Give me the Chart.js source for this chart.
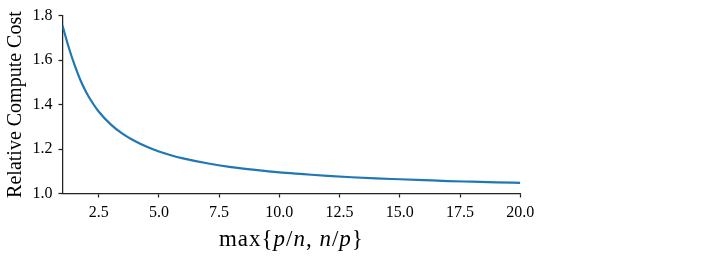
<!DOCTYPE html>
<html>
<head>
<meta charset="utf-8">
<script src="https://cdn.jsdelivr.net/npm/chart.js@4/dist/chart.umd.min.js"></script>
<style>
  html, body { margin: 0; padding: 0; background: #fff; }
  #wrap { width: 723px; height: 280px; position: relative; }
</style>
</head>
<body>
<div id="wrap"><canvas id="c" width="723" height="280"></canvas></div>
<script>
// ---- data ----
const ratioValues = [1, 1.25, 1.5, 1.75, 2, 2.25, 2.5, 3, 3.5, 4, 4.5, 5, 5.5, 6, 7, 8, 9, 10, 11, 12, 13, 14, 15, 16, 17, 18, 19, 20];
const costValues  = [1.755, 1.660, 1.578, 1.508, 1.452, 1.407, 1.369, 1.311, 1.268, 1.236, 1.210, 1.189, 1.172, 1.158, 1.136, 1.119, 1.106, 1.095, 1.087, 1.079, 1.073, 1.068, 1.064, 1.060, 1.056, 1.053, 1.050, 1.048];
const xTickValues = [2.5, 5.0, 7.5, 10.0, 12.5, 15.0, 17.5, 20.0];
const yTickValues = [1.0, 1.2, 1.4, 1.6, 1.8];
const yAxisTitle = 'Relative Compute Cost';
// x-axis title pieces: [text, italic]
const xTitleParts = [['max{', false], ['p', true], ['/', false], ['n', true], [', ', false], ['n', true], ['/', false], ['p', true], ['}', false]];

const FONT = '"Liberation Serif", "DejaVu Serif", serif';
const AXIS_COLOR = '#222';

const xTitlePlugin = {
  id: 'xTitle',
  afterDraw(chart) {
    const ctx = chart.ctx;
    const area = chart.chartArea;
    const size = 23;
    ctx.save();
    ctx.fillStyle = '#000';
    ctx.textBaseline = 'middle';
    if ('letterSpacing' in ctx) ctx.letterSpacing = '1px';
    let total = 0;
    const widths = xTitleParts.map(([t, it]) => {
      ctx.font = (it ? 'italic ' : '') + size + 'px ' + FONT;
      const w = ctx.measureText(t).width;
      total += w;
      return w;
    });
    let x = (area.left + area.right) / 2 - total / 2;
    const y = 240;
    xTitleParts.forEach(([t, it], i) => {
      ctx.font = (it ? 'italic ' : '') + size + 'px ' + FONT;
      ctx.fillText(t, x, y);
      x += widths[i];
    });
    ctx.restore();
  }
};

new Chart(document.getElementById('c'), {
  type: 'line',
  data: {
    datasets: [{
      data: ratioValues.map((x, i) => ({ x: x, y: costValues[i] })),
      borderColor: '#1f77b4',
      borderWidth: 2.2,
      pointRadius: 0,
      fill: false,
      cubicInterpolationMode: 'monotone'
    }]
  },
  options: {
    responsive: false,
    animation: false,
    devicePixelRatio: 1,
    layout: { padding: { left: 0, top: 13, right: 202.7, bottom: 0 } },
    plugins: { legend: { display: false }, tooltip: { enabled: false } },
    scales: {
      x: {
        type: 'linear',
        min: 1, max: 20,
        afterBuildTicks(scale) { scale.ticks = xTickValues.map(v => ({ value: v })); },
        afterFit(scale) { scale.height = 280 - 193.5; },
        border: { display: true, color: AXIS_COLOR, width: 1.25 },
        grid: { display: true, drawOnChartArea: false, drawTicks: true, tickLength: 4, tickWidth: 1.25, tickColor: AXIS_COLOR },
        ticks: {
          color: '#000',
          font: { family: FONT, size: 16 },
          padding: 6,
          maxRotation: 0,
          autoSkip: false,
          callback: v => Number(v).toFixed(1)
        }
      },
      y: {
        type: 'linear',
        min: 1.0, max: 1.8,
        afterBuildTicks(scale) { scale.ticks = yTickValues.map(v => ({ value: v })); },
        afterFit(scale) { scale.width = 62.5; },
        border: { display: true, color: AXIS_COLOR, width: 1.25 },
        grid: { display: true, drawOnChartArea: false, drawTicks: true, tickLength: 4, tickWidth: 1.25, tickColor: AXIS_COLOR },
        ticks: {
          color: '#000',
          font: { family: FONT, size: 16 },
          padding: 6,
          autoSkip: false,
          callback: v => Number(v).toFixed(1)
        },
        title: {
          display: true,
          text: yAxisTitle,
          color: '#000',
          font: { family: FONT, size: 20 },
          padding: { top: 4, bottom: 0 }
        }
      }
    }
  },
  plugins: [xTitlePlugin]
});
</script>
</body>
</html>
